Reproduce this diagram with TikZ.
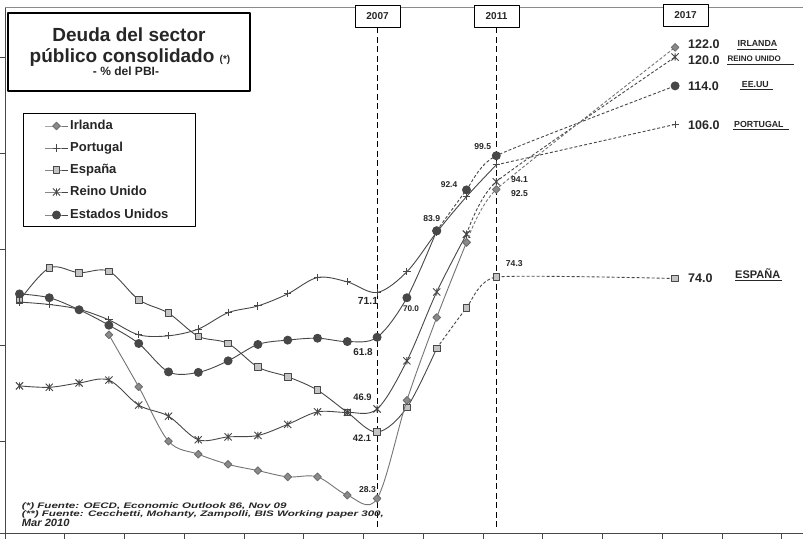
\documentclass[tikz,border=0pt]{standalone}
\usepackage{fontspec}
\setmainfont{Liberation Sans}
\usetikzlibrary{plotmarks}
\definecolor{linea}{HTML}{474747}
\definecolor{gris}{HTML}{8A8A8A}
\definecolor{grisclaro}{HTML}{C4C4C4}
\definecolor{texto}{HTML}{262626}
\pgfdeclareplotmark{estrella}{%
  \pgfpathmoveto{\pgfqpoint{0pt}{\pgfplotmarksize}}%
  \pgfpathlineto{\pgfqpoint{0pt}{-\pgfplotmarksize}}%
  \pgfpathmoveto{\pgfqpoint{-\pgfplotmarksize}{\pgfplotmarksize}}%
  \pgfpathlineto{\pgfqpoint{\pgfplotmarksize}{-\pgfplotmarksize}}%
  \pgfpathmoveto{\pgfqpoint{-\pgfplotmarksize}{-\pgfplotmarksize}}%
  \pgfpathlineto{\pgfqpoint{\pgfplotmarksize}{\pgfplotmarksize}}%
  \pgfusepathqstroke}

\begin{document}
\begin{tikzpicture}[x=1pt, y=1pt, line join=round,
    every node/.style={text=texto, font=\bfseries, inner sep=0pt},
    serie/.style={draw=linea, line width=0.9pt, tension=0.55},
    proy/.style={dash pattern=on 3pt off 2pt, tension=0.3},
    irl/.style={serie, draw=gris!85!black, mark=square*, mark size=2.7pt, mark options={rotate=45, fill=gris, draw=gris!80!black, solid}},
    por/.style={serie, mark=+, mark size=3.6pt, mark options={solid}},
    esp/.style={serie, mark=square*, mark size=3.3pt, mark options={fill=grisclaro, draw=linea, solid}},
    ruk/.style={serie, mark=estrella, mark size=3.6pt, mark options={solid}},
    eeu/.style={serie, mark=*, mark size=4pt, mark options={fill=linea, draw=linea, solid}},
    anio/.style={draw=black, fill=white, line width=0.8pt, minimum width=45pt, minimum height=22pt, font=\bfseries\fontsize{10}{12}\selectfont},
    corte/.style={black, line width=1pt, dash pattern=on 6pt off 3.5pt},
    dato/.style={font=\bfseries\fontsize{8.6}{10}\selectfont},
    final/.style={anchor=base west, font=\bfseries\fontsize{12.5}{14}\selectfont},
    pais/.style={anchor=base west, font=\bfseries\fontsize{8.8}{10}\selectfont},
    nota/.style={anchor=base west, font=\bfseries\itshape\fontsize{8}{9}\selectfont}]

  \fill[white] (0,0) rectangle (803,539);
  \useasboundingbox (0,0) rectangle (803,539);

  \draw[linea, line width=0.8pt] (5,6) -- (5,532);
  \draw[gris, line width=0.8pt] (5,532) -- (803,532);
  \draw[linea, line width=0.8pt] (0,6) -- (803,6);
  \foreach \k in {0,...,13}
    \draw[linea, line width=0.8pt] (5+59.75*\k,6) -- (5+59.75*\k,0);
  \foreach \r in {98,194,290,386,482}
    \draw[linea, line width=0.8pt] (0,\r) -- (5,\r);

  \node[anio] (a2007) at (377.5,523) {2007};
  \node[anio] (a2011) at (496.5,523) {2011};
  \node[anio] (a2017) at (685.5,524) {2017};
  \coordinate (f2007) at (377.5,12);
  \coordinate (f2011) at (496.5,12);
  \draw[corte] (a2007) -- (f2007);
  \draw[corte] (a2011) -- (f2011);

  \node[draw=black, line width=1.6pt, minimum width=242pt, minimum height=78pt] (titulo) at (129,487) {};
  \node[anchor=base, font=\bfseries\fontsize{19}{22}\selectfont] (tit1) at (129,497.3) {Deuda del sector};
  \node[anchor=base, font=\bfseries\fontsize{19}{22}\selectfont] (tit2) at (130,476.7) {público consolidado {\fontsize{10}{12}\selectfont (*)}};
  \node[anchor=base, font=\bfseries\fontsize{12}{14}\selectfont] (tit3) at (126,463) {- \% del PBI-};

  \node[draw=black, line width=0.8pt, minimum width=172pt, minimum height=113pt] (leyenda) at (109,369.5) {};
  \draw[irl, mark indices={2}] plot coordinates {(45,413) (56.5,413) (68,413)};
  \draw[por, mark indices={2}] plot coordinates {(45,391) (56.5,391) (68,391)};
  \draw[esp, mark indices={2}] plot coordinates {(45,369) (56.5,369) (68,369)};
  \draw[ruk, mark indices={2}] plot coordinates {(45,347) (56.5,347) (68,347)};
  \draw[eeu, mark indices={2}] plot coordinates {(45,324) (56.5,324) (68,324)};
  \node[anchor=base west, font=\bfseries\fontsize{13}{15}\selectfont] (lirl) at (70,409) {Irlanda};
  \node[anchor=base west, font=\bfseries\fontsize{13}{15}\selectfont] (lpor) at (70,387) {Portugal};
  \node[anchor=base west, font=\bfseries\fontsize{13}{15}\selectfont] (lesp) at (70,365) {España};
  \node[anchor=base west, font=\bfseries\fontsize{13}{15}\selectfont] (lruk) at (70,343) {Reino Unido};
  \node[anchor=base west, font=\bfseries\fontsize{13}{15}\selectfont] (leeu) at (70,320) {Estados Unidos};

  \begin{scope}[xshift=19.5pt, yshift=-95.8pt, x=29.8pt, y=4.815pt]
    \draw[esp, smooth] plot coordinates {(0,69.4) (1,76.2) (2,75.2) (3,75.5) (4,69.6) (5,66.8) (6,62.0) (7,60.5) (8,55.6) (9,53.6) (10,50.8) (11,46.2) (12,42.1) (13,47.2) (14,59.5)};
    \draw[esp, proy, smooth] plot coordinates {(14,59.5) (15,67.9) (16,74.3) (22,74)};
    \draw[por, smooth] plot coordinates {(0,69.1) (1,68.6) (2,67.6) (3,65.4) (4,62.3) (5,62.1) (6,63.5) (7,66.9) (8,68.3) (9,70.8) (10,74.2) (11,73.3) (12,71.1) (13,75.4) (14,83.6) (15,91.0) (16,97.6)};
    \draw[por, proy, smooth] plot coordinates {(16,97.6) (22,106)};
    \draw[eeu, smooth] plot coordinates {(0,70.8) (1,70.0) (2,67.5) (3,64.3) (4,60.5) (5,54.6) (6,54.5) (7,56.9) (8,60.3) (9,61.2) (10,61.6) (11,60.9) (12,61.8) (13,70.0) (14,83.9)};
    \draw[eeu, proy, smooth] plot coordinates {(14,83.9) (15,92.4) (16,99.5) (22,114)};
    \draw[ruk, smooth] plot coordinates {(0,51.7) (1,51.4) (2,52.3) (3,52.9) (4,47.7) (5,45.4) (6,40.5) (7,41.1) (8,41.4) (9,43.7) (10,46.3) (11,46.2) (12,46.9) (13,56.9) (14,71.2) (15,83.2)};
    \draw[ruk, proy, smooth] plot coordinates {(15,83.2) (16,94.1) (22,120)};
    \draw[irl, smooth] plot coordinates {(3,62.3) (4,51.5) (5,40.2) (6,37.5) (7,35.4) (8,34.1) (9,32.8) (10,32.8) (11,29.0) (12,28.3) (13,48.7) (14,65.9) (15,81.5)};
    \draw[irl, proy, smooth] plot coordinates {(15,81.5) (16,92.5) (22,122)};
  \end{scope}

  \node[dato, font=\bfseries\fontsize{10.3}{12}\selectfont] (d711) at (368,238) {71.1};
  \node[dato, font=\bfseries\fontsize{8.2}{10}\selectfont] (d700) at (411,230) {70.0};
  \node[dato, font=\bfseries\fontsize{9.9}{12}\selectfont] (d618) at (363,187) {61.8};
  \node[dato, font=\bfseries\fontsize{9.4}{11}\selectfont] (d469) at (362.5,142) {46.9};
  \node[dato, font=\bfseries\fontsize{9.4}{11}\selectfont] (d421) at (362,101) {42.1};
  \node[dato] (d283) at (367.5,49) {28.3};
  \node[dato] (d839) at (431.7,320.3) {83.9};
  \node[dato, font=\bfseries\fontsize{8.4}{10}\selectfont] (d924) at (449,354.7) {92.4};
  \node[dato] (d995) at (482.7,392.3) {99.5};
  \node[dato] (d941) at (519.5,359) {94.1};
  \node[dato] (d925) at (519.5,345) {92.5};
  \node[dato] (d743) at (514.3,275.7) {74.3};

  \node[final] (virl) at (688,490.7) {122.0};
  \node[final] (vruk) at (688,474) {120.0};
  \node[final] (veeu) at (688,448.3) {114.0};
  \node[final] (vpor) at (688,409.7) {106.0};
  \node[final] (vesp) at (688,256.3) {74.0};
  \node[pais] (pirl) at (737.5,492.3) {IRLANDA};
  \node[pais, font=\bfseries\fontsize{8}{10}\selectfont] (pruk) at (727.3,477.3) {REINO UNIDO};
  \node[pais] (peeu) at (741.7,451.7) {EE.UU};
  \node[pais] (ppor) at (734,411.3) {PORTUGAL};
  \node[pais, font=\bfseries\fontsize{11}{13}\selectfont] (pesp) at (735,260.7) {ESPAÑA};
  \draw[texto, line width=0.8pt] (737,490) -- (777,490);
  \draw[texto, line width=0.8pt] (727,475) -- (794,475);
  \draw[texto, line width=0.8pt] (740,449.7) -- (773,449.7);
  \draw[texto, line width=0.8pt] (733,409.7) -- (789,409.7);
  \draw[texto, line width=0.8pt] (735,258.3) -- (782,258.3);

  \node[nota] (nota1) at (21.7,30.5) {\scalebox{1.45}[1]{(*) Fuente: OECD, Economic Outlook 86, Nov 09}};
  \node[nota] (nota2) at (21.7,22.3) {\scalebox{1.45}[1]{(**) Fuente: Cecchetti, Mohanty, Zampolli, BIS Working paper 300,}};
  \node[nota, font=\bfseries\itshape\fontsize{10.5}{12}\selectfont] (nota3) at (21.7,12.3) {\scalebox{1.06}[1]{Mar 2010}};
\end{tikzpicture}
\end{document}
